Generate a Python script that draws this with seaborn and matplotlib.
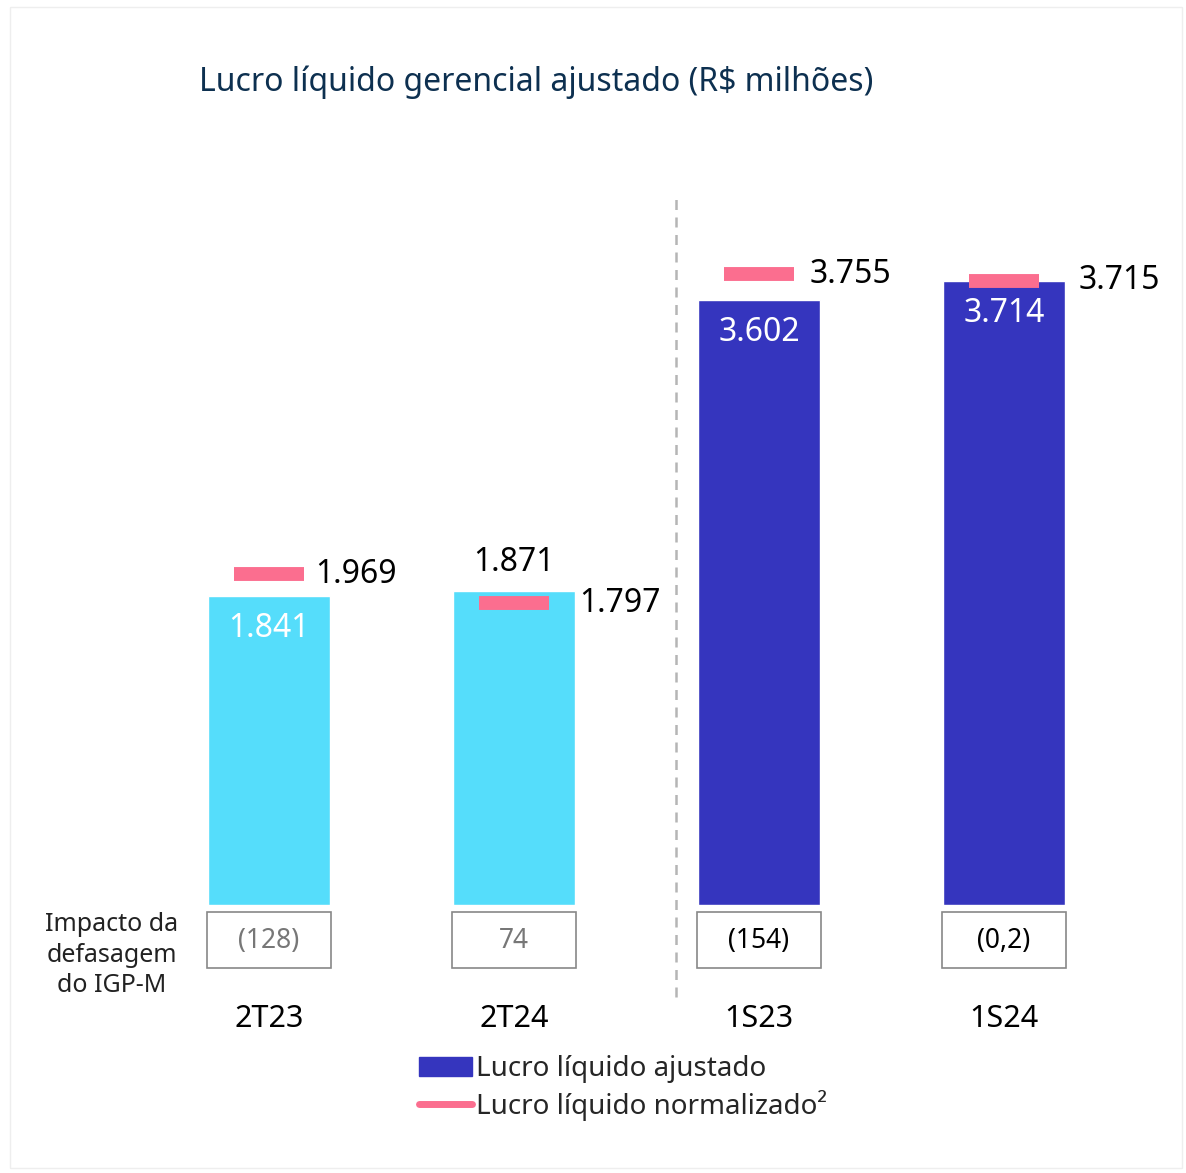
import matplotlib
matplotlib.use("Agg")
import matplotlib.pyplot as plt
import matplotlib.transforms as mtransforms
from matplotlib.patches import Patch, Rectangle
from matplotlib.lines import Line2D
import seaborn as sns
import pandas as pd


# ---- data ----------------------------------------------------------------

periods = ["2T23", "2T24", "1S23", "1S24"]
lucro_ajustado = [1841, 1871, 3602, 3714]
lucro_normalizado = [1969, 1797, 3755, 3715]
ajustado_labels = ["1.841", "1.871", "3.602", "3.714"]
normalizado_labels = ["1.969", "1.797", "3.755", "3.715"]
impacto_labels = ["(128)", "74", "(154)", "(0,2)"]

CYAN = "#55DDFB"
BLUE = "#3535BE"
PINK = "#FB6E8F"
NAVY = "#0D3050"
bar_colors = [CYAN, CYAN, BLUE, BLUE]
impacto_colors = ["#777777", "#777777", "black", "black"]

# how far right of the marker centre each normalized label starts
label_dx = [0.19, 0.265, 0.208, 0.306]

sns.set_theme(style="white")
plt.rcParams["font.family"] = ["Noto Sans", "DejaVu Sans"]

data = pd.DataFrame({"period": periods, "valor": lucro_ajustado})

# ---- figure ----------------------------------------------------------------

W, H = 1186, 1173
fig = plt.figure(figsize=(W / 100, H / 100), dpi=100)

# faint frame around the card
fig.patches.append(Rectangle((10 / W, 5 / H), (W - 14) / W, (H - 12) / H,
                             transform=fig.transFigure, fill=False,
                             edgecolor="#EEEEEE", linewidth=1))

# axes: x=0 at pixel 269, step 245 px; baseline at pixel 905, 0.168 px per unit
x_lo, x_hi = -1.0, 3.6
left_px = 269 + 245 * x_lo
right_px = 269 + 245 * x_hi
top_px = 150
base_px = 905
y_hi = (base_px - top_px) / 0.168
ax = fig.add_axes([left_px / W, 1 - base_px / H,
                   (right_px - left_px) / W, (base_px - top_px) / H])

sns.barplot(data=data, x="period", y="valor", hue="period", palette=bar_colors,
            width=0.5, legend=False, ax=ax, saturation=1)
ax.set_xlim(x_lo, x_hi)
ax.set_ylim(0, y_hi)
ax.axis("off")

xs = list(range(len(periods)))

# normalized profit markers
ax.hlines(lucro_normalizado, [x - 0.143 for x in xs], [x + 0.143 for x in xs],
          colors=PINK, linewidth=10, capstyle="butt", zorder=3)

# labels of normalized values, to the right of the marker
for x, v, lab, dx in zip(xs, lucro_normalizado, normalizado_labels, label_dx):
    ax.text(x + dx, v, lab, ha="left", va="center", fontsize=23,
            color="black", zorder=4)

# labels of adjusted values
for i, (x, v, lab) in enumerate(zip(xs, lucro_ajustado, ajustado_labels)):
    if i == 1:
        ax.text(x, v + 165, lab, ha="center", va="center", fontsize=23,
                color="black")
    else:
        ax.text(x, v - 195, lab, ha="center", va="center", fontsize=23,
                color="white")

# dashed separator between quarters and semesters
sep_x = (676 - 269) / 245
ax.plot([sep_x, sep_x], [(base_px - 997) / 0.168, (base_px - 193) / 0.168],
        color="#B5B5B5", linestyle=(0, (4, 3)), linewidth=1.8, clip_on=False)

# impact boxes and period names below the bars
trans = mtransforms.blended_transform_factory(ax.transData, fig.transFigure)
box_top, box_bot = 912, 968
for x, lab, c in zip(xs, impacto_labels, impacto_colors):
    ax.add_patch(Rectangle((x - 0.255, 1 - box_bot / H), 0.51,
                           (box_bot - box_top) / H, transform=trans,
                           fill=False, edgecolor="#888888", linewidth=1.2,
                           clip_on=False))
    ax.text(x, 1 - 941 / H, lab, transform=trans, ha="center", va="center",
            fontsize=19, color=c)
    ax.text(x, 1 - 1019 / H, periods[x], transform=trans, ha="center",
            va="center", fontsize=22, color="black")

fig.text(112 / W, 1 - 955 / H, "Impacto da\ndefasagem\ndo IGP-M",
         ha="center", va="center", fontsize=18, color="#222222",
         linespacing=1.27)

fig.text(199 / W, 1 - 82 / H, "Lucro líquido gerencial ajustado (R$ milhões)",
         ha="left", va="center", fontsize=23, color=NAVY)

# legend
handles = [Patch(facecolor=BLUE, edgecolor=BLUE),
           Line2D([0], [0], color=PINK, linewidth=5, solid_capstyle="round")]
fig.legend(handles, ["Lucro líquido ajustado", "Lucro líquido normalizado²"],
           loc="center left", bbox_to_anchor=(405 / W, 1 - 1088 / H),
           frameon=False, fontsize=20, handlelength=1.9, handletextpad=0.15,
           labelspacing=0.25, borderpad=0)

fig.savefig("out.png", dpi=100)
